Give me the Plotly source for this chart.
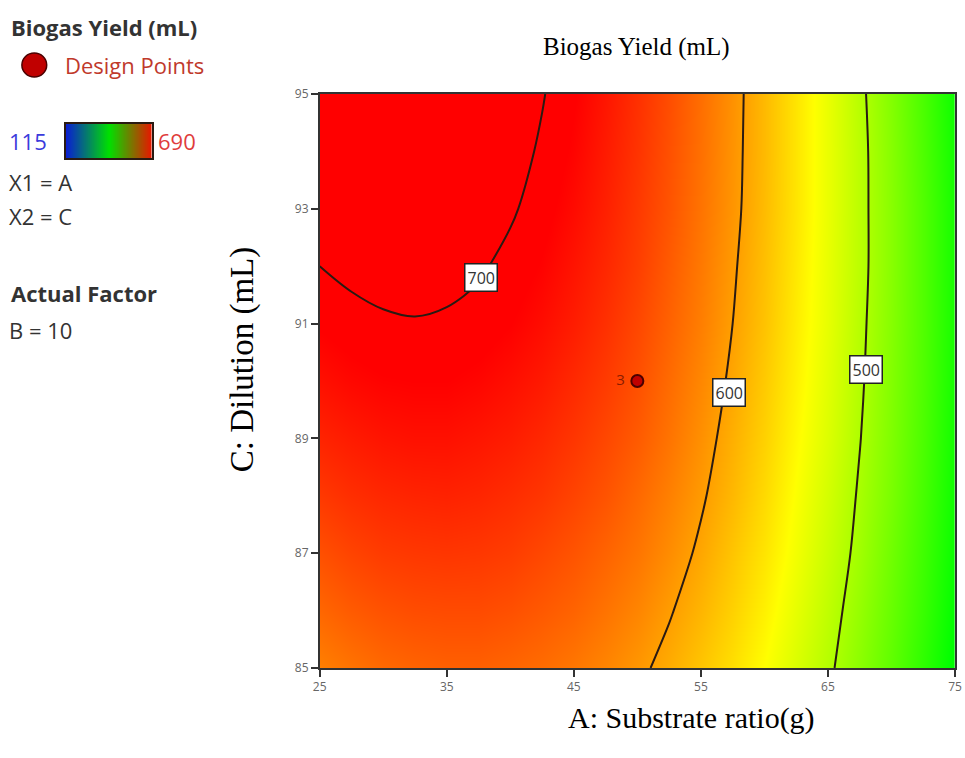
import plotly.graph_objects as go

# ---------------- data ----------------
A_vals = [25, 27.5, 30, 32.5, 35, 37.5, 40, 42.5, 45, 47.5, 50, 52.5, 55,
          57.5, 60, 62.5, 65, 67.5, 70, 72.5, 75]                 # A: Substrate ratio (g)
C_vals = [85, 86, 87, 88, 89, 90, 91, 92, 93, 94, 95]              # C: Dilution (mL)
# Biogas yield (mL); rows follow C_vals, columns follow A_vals
yield_grid = [
    [618, 625, 631, 634, 636, 636, 633, 629, 623, 615, 605, 593, 579, 564, 546, 526, 505, 481, 456, 428, 399],
    [632, 639, 644, 647, 648, 648, 645, 640, 634, 625, 615, 602, 588, 572, 554, 533, 511, 487, 461, 434, 404],
    [645, 652, 657, 659, 660, 659, 656, 650, 643, 634, 624, 611, 596, 579, 561, 540, 517, 493, 466, 438, 408],
    [658, 664, 668, 670, 671, 669, 665, 660, 652, 643, 631, 618, 603, 586, 567, 545, 522, 497, 471, 442, 411],
    [670, 675, 679, 681, 681, 678, 674, 668, 660, 650, 639, 625, 609, 591, 572, 550, 527, 501, 474, 445, 413],
    [681, 686, 689, 690, 690, 687, 682, 676, 667, 657, 645, 630, 614, 596, 576, 554, 530, 504, 476, 447, 415],
    [691, 695, 698, 699, 698, 695, 690, 683, 674, 663, 650, 635, 619, 600, 580, 557, 533, 506, 478, 448, 416],
    [700, 704, 706, 707, 705, 702, 696, 689, 679, 668, 655, 639, 622, 603, 582, 559, 534, 508, 479, 448, 415],
    [708, 712, 714, 714, 712, 708, 702, 694, 684, 672, 658, 643, 625, 606, 584, 561, 535, 508, 479, 448, 415],
    [716, 719, 721, 720, 717, 713, 706, 698, 688, 675, 661, 645, 627, 607, 585, 561, 535, 508, 478, 446, 413],
    [723, 725, 726, 725, 722, 717, 710, 701, 691, 678, 663, 647, 628, 608, 585, 561, 535, 506, 476, 444, 410],
]
color_min, color_max = 115, 690
contour_levels = [500, 600, 700]
# contour label anchors (A, C)
label_levels = [700, 600, 500]
label_A = [37.7, 57.2, 68.0]
label_C = [91.8, 89.8, 90.2]
# design point
design_A = [50]
design_C = [90]
design_count = ["3\u00a0"]
x_ticks = [25, 35, 45, 55, 65, 75]
y_ticks = [85, 87, 89, 91, 93, 95]

# ---------------- geometry helpers ----------------
W, H = 965, 758
ML, MR, MT, MB = 0, 10, 94, 90
PW, PH = W - ML - MR, H - MT - MB


def px(x):
    return (x - ML) / PW


def py(y):
    return (H - MB - y) / PH


surface_scale = [
    [0.0, "rgb(0,0,255)"],
    [0.5, "rgb(0,255,0)"],
    [0.75, "rgb(255,255,0)"],
    [1.0, "rgb(255,0,0)"],
]

fig = go.Figure()

fig.add_trace(go.Heatmap(
    x=A_vals, y=C_vals, z=yield_grid, zmin=color_min, zmax=color_max,
    colorscale=surface_scale, zsmooth="best", showscale=False, hoverinfo="skip",
))
fig.add_trace(go.Contour(
    x=A_vals, y=C_vals, z=yield_grid,
    contours=dict(start=min(contour_levels), end=max(contour_levels),
                  size=contour_levels[1] - contour_levels[0], coloring="none"),
    line=dict(color="#2a1a12", width=2, smoothing=1.0),
    showscale=False, hoverinfo="skip",
))
fig.add_trace(go.Scatter(
    x=design_A, y=design_C, mode="markers+text", text=design_count,
    textposition="middle left",
    textfont=dict(family="Open Sans", size=15, color="#8a1c00"),
    marker=dict(size=12, color="#c00000", line=dict(color="#4a0000", width=2)),
    showlegend=False, hoverinfo="skip",
))

# legend colour ramp (115 .. 690)
legend_scale = [
    [0.0, "rgb(10,30,210)"],
    [0.5, "rgb(0,225,0)"],
    [1.0, "rgb(235,20,0)"],
]
fig.add_trace(go.Heatmap(
    x=[0, 1], y=[0, 1], z=[[color_min, color_max], [color_min, color_max]],
    zmin=color_min, zmax=color_max, colorscale=legend_scale, zsmooth="best",
    showscale=False, xaxis="x2", yaxis="y2", hoverinfo="skip",
))

axis_common = dict(
    showgrid=False, zeroline=False, showline=True, linecolor="#333333", linewidth=1.5,
    mirror=True, ticks="outside", ticklen=7, tickcolor="#333333", tickwidth=1.5,
    tickfont=dict(family="Open Sans", size=12, color="#666666"),
)
fig.update_layout(
    width=W, height=H,
    margin=dict(l=ML, r=MR, t=MT, b=MB),
    paper_bgcolor="white", plot_bgcolor="white",
    showlegend=False,
    xaxis=dict(domain=[px(315), 1], range=[25, 75], tickvals=x_ticks, **axis_common),
    yaxis=dict(domain=[0, 1], range=[85, 95], tickvals=y_ticks, **axis_common),
    xaxis2=dict(domain=[px(59), px(146)], range=[0, 1], anchor="y2", showticklabels=False,
                ticks="", showgrid=False, zeroline=False, showline=True, mirror=True,
                linecolor="#2a1a12", linewidth=2),
    yaxis2=dict(domain=[py(158), py(124)], range=[0, 1], anchor="x2", showticklabels=False,
                ticks="", showgrid=False, zeroline=False, showline=True, mirror=True,
                linecolor="#2a1a12", linewidth=2),
)

ann = []
serif_family = "Liberation Serif, Times New Roman, serif"
ann.append(dict(text="Biogas Yield (mL)", x=px(634), y=py(47), xref="paper", yref="paper",
                showarrow=False, font=dict(family=serif_family, size=25, color="black"),
                xanchor="center", yanchor="middle"))
ann.append(dict(text="A: Substrate ratio(g)", x=px(690), y=py(718), xref="paper", yref="paper",
                showarrow=False, font=dict(family=serif_family, size=30, color="black"),
                xanchor="center", yanchor="middle"))
ann.append(dict(text="C: Dilution (mL)", x=px(237), y=py(359), xref="paper", yref="paper",
                showarrow=False, font=dict(family=serif_family, size=33, color="black"),
                textangle=-90, xanchor="center", yanchor="middle"))

sans = "Open Sans"
dark = "#333333"
left_items = [
    ("<b>Biogas Yield (mL)</b>", 2, 27, dark),
    ("Design Points", 56, 65, "#c0392b"),
    ("115", 0, 141, "#3b3bdc"),
    ("690", 150, 141, "#e03c3c"),
    ("X1 = A", 0, 182, dark),
    ("X2 = C", 0, 216, dark),
    ("<b>Actual Factor</b>", 2, 293, dark),
    ("B = 10", 0, 330, dark),
]
for t, x, y, c in left_items:
    ann.append(dict(text=t, x=px(x), y=py(y), xref="paper", yref="paper", showarrow=False,
                    xanchor="left", yanchor="middle", font=dict(family=sans, size=22, color=c)))

for lv, la, lc in zip(label_levels, label_A, label_C):
    ann.append(dict(text=str(lv), x=la, y=lc, xref="x", yref="y", showarrow=False,
                    font=dict(family=sans, size=16, color="#333333"),
                    bgcolor="white", bordercolor="#222222", borderwidth=1.5, borderpad=2))

fig.update_layout(annotations=ann)

fig.add_shape(type="circle", xref="paper", yref="paper",
              x0=px(15), x1=px(40), y0=py(77), y1=py(53),
              fillcolor="#c00000", line=dict(color="#4a0000", width=1.5))

fig.write_html("out.html")
